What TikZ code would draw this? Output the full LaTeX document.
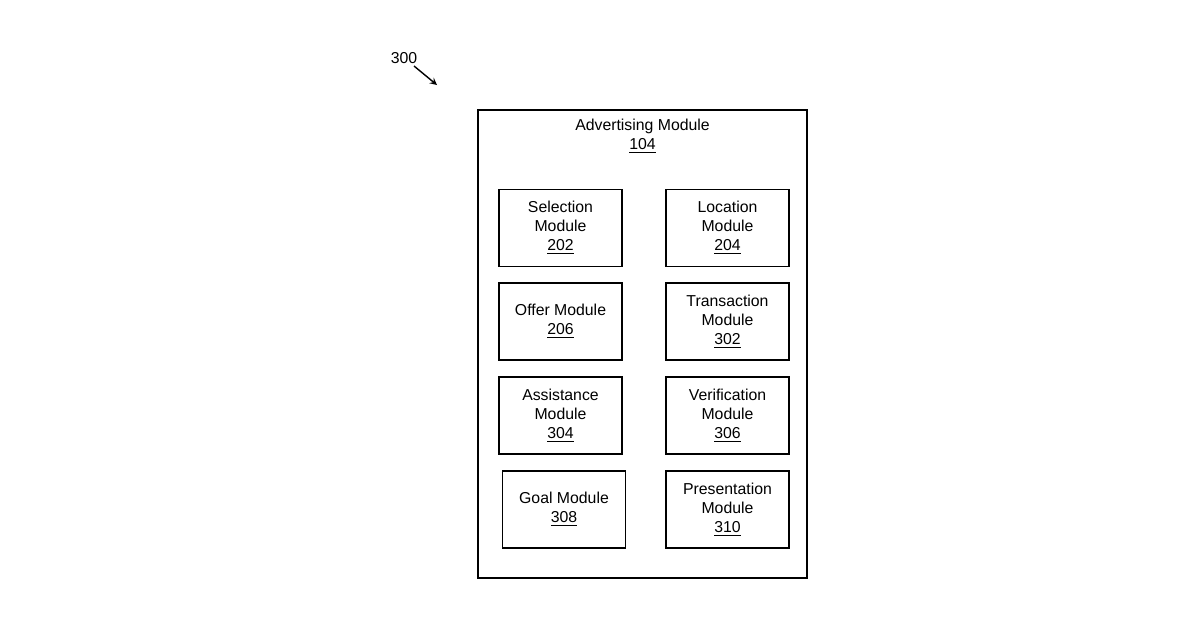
\documentclass[tikz,border=0pt]{standalone}
\usepackage{fontspec}
\setmainfont{Liberation Sans}
\usepackage{tikz}

\tikzset{
	mod/.style={draw, thick, minimum width=2.46cm, minimum height=1.54cm, align=center, font=\fontsize{9}{10.8}\selectfont}
}

\begin{document}
\begin{tikzpicture}[x=0.02cm, y=-0.02cm]
	\useasboundingbox (0,0) rectangle (1200,630);
	\node (outer) at (642.5,344) [draw, thick, minimum width=6.58cm, minimum height=9.36cm] {};
	\node (title) at (642.5,136) [align=center, font=\fontsize{9}{10.8}\selectfont] {Advertising Module\\\underline{104}};
	\node (202) at (560.5,228) [mod] {Selection\\Module\\\underline{202}};
		\node (204) at (727.5,228) [mod] {Location\\Module\\\underline{204}};
	\node (206) at (560.5,321.5) [mod] {Offer Module\\\underline{206}};
		\node (302) at (727.5,321.5) [mod] {Transaction\\Module\\\underline{302}};
	\node (304) at (560.5,415.5) [mod] {Assistance\\Module\\\underline{304}};
		\node (306) at (727.5,415.5) [mod] {Verification\\Module\\\underline{306}};
	\node (308) at (564,509.5) [mod] {Goal Module\\\underline{308}};
		\node (310) at (727.5,509.5) [mod] {Presentation\\Module\\\underline{310}};
	\node (300) at (404,58) [font=\fontsize{9}{10.8}\selectfont] {300};
	\coordinate (tail) at (414,66);
	\coordinate (tip) at (437,85);
	\draw[thick, -stealth] (tail) -- (tip);
\end{tikzpicture}
\end{document}
